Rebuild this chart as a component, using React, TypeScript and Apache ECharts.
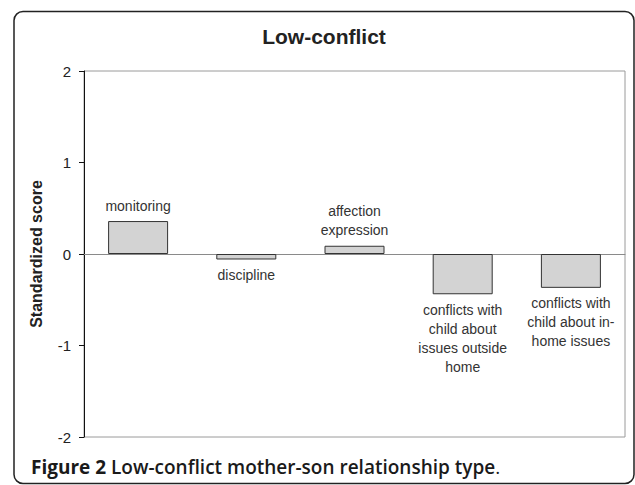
import React, { useEffect, useRef } from "react";
import * as echarts from "echarts";

const categories = [
  "monitoring",
  "discipline",
  "affection expression",
  "conflicts with child about issues outside home",
  "conflicts with child about in-home issues",
];
const barLabels = [
  "monitoring",
  "discipline",
  "affection\nexpression",
  "conflicts with\nchild about\nissues outside\nhome",
  "conflicts with\nchild about in-\nhome issues",
];
const scores = [0.36, -0.06, 0.09, -0.44, -0.37];
const yTicks = { min: -2, max: 2, interval: 1 };
const chartTitle = "Low-conflict";
const yAxisName = "Standardized score";
const captionBold = "Figure 2";
const captionRest = " Low-conflict mother-son relationship type";

export default function App() {
  const ref = useRef<HTMLDivElement>(null);
  useEffect(() => {
    if (!ref.current) return;
    const chart = echarts.init(ref.current, undefined, { renderer: "svg" });
    const font = "'Liberation Sans', Arial, sans-serif";
    const capFont = "'Open Sans', sans-serif";
    chart.setOption({
      animation: false,
      backgroundColor: "#ffffff",
      textStyle: { fontFamily: font },
      grid: {
        left: 84,
        top: 71,
        right: 10,
        bottom: 48,
        show: true,
        borderColor: "#9a9a9a",
        borderWidth: 1,
      },
      xAxis: {
        type: "category",
        data: categories,
        axisLine: { show: true, onZero: true, lineStyle: { color: "#8a8a8a", width: 1 } },
        axisTick: { show: false },
        axisLabel: { show: false },
        splitLine: { show: false },
      },
      yAxis: {
        type: "value",
        min: yTicks.min,
        max: yTicks.max,
        interval: yTicks.interval,
        name: yAxisName,
        nameLocation: "middle",
        nameGap: 40,
        nameTextStyle: { fontFamily: font, fontSize: 16, fontWeight: "bold", color: "#222" },
        axisLine: { show: true, lineStyle: { color: "#111", width: 1 } },
        axisTick: { show: true, inside: false, length: 5, lineStyle: { color: "#111" } },
        axisLabel: { fontFamily: font, fontSize: 15, color: "#222", margin: 13 },
        splitLine: { show: false },
      },
      series: [
        {
          type: "bar",
          barWidth: 60,
          data: scores.map((v, i) => ({
            value: v,
            label: {
              show: true,
              position: v >= 0 ? "top" : "bottom",
              distance: 6,
              formatter: barLabels[i],
              fontFamily: font,
              fontSize: 14,
              lineHeight: 19,
              color: "#333",
              align: "center",
            },
          })),
          itemStyle: { color: "#d3d3d3", borderColor: "#333", borderWidth: 1 },
        },
      ],
      graphic: [
        {
          type: "rect",
          shape: { x: 14, y: 11.5, width: 620, height: 472, r: 9 },
          style: { fill: "none", stroke: "#222", lineWidth: 1.5 },
          silent: true,
        },
        {
          type: "text",
          x: 324,
          y: 36,
          style: {
            text: chartTitle,
            fontFamily: font,
            fontSize: 21,
            fontWeight: "bold",
            fill: "#222",
            align: "center",
            verticalAlign: "middle",
          },
        },
        {
          type: "text",
          x: 31,
          y: 467,
          style: {
            text: "{b|" + captionBold + "}{r|" + captionRest + "}{p|.}",
            verticalAlign: "middle",
            align: "left",
            rich: {
              b: { fontFamily: capFont, fontSize: 19, fontWeight: 700, fill: "#1a1a1a" },
              r: { fontFamily: capFont, fontSize: 19, fontWeight: 600, fill: "#1a1a1a" },
              p: { fontFamily: capFont, fontSize: 19, fontWeight: 400, fill: "#1a1a1a" },
            },
          },
        },
      ],
    });
    return () => chart.dispose();
  }, []);
  return (
    <div
      ref={ref}
      style={{ position: "fixed", left: 0, top: 0, width: 635, height: 485 }}
    />
  );
}
